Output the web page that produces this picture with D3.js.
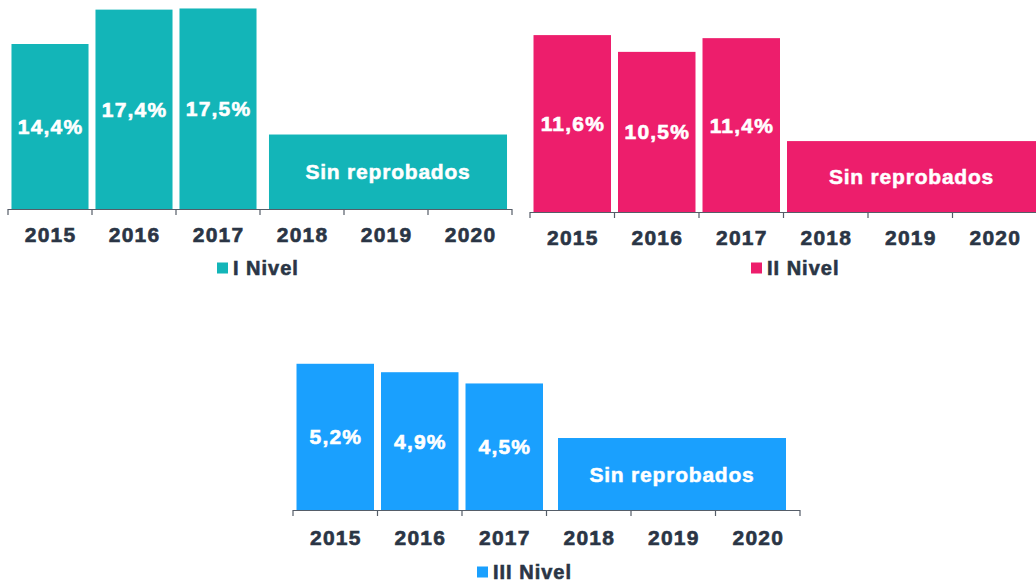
<!DOCTYPE html>
<html>
<head>
<meta charset="utf-8">
<script src="https://cdn.jsdelivr.net/npm/d3@7"></script>
<style>
  body { margin: 0; background: #fff; }
  text { font-family: "Liberation Sans", Arial, sans-serif; font-weight: bold; }
</style>
</head>
<body>
<div id="chart"></div>
<script>
// Data
var years = ["2015", "2016", "2017", "2018", "2019", "2020"];
var barYears = ["2015", "2016", "2017"];
var wideYears = ["2018", "2020"];
var wideLabel = "Sin reprobados";

var nivelNames = ["I Nivel", "II Nivel", "III Nivel"];
var nivelColors = ["#13b5b8", "#ed1e6c", "#1aa0fe"];
var nivel1 = [14.4, 17.4, 17.5];
var nivel2 = [11.6, 10.5, 11.4];
var nivel3 = [5.2, 4.9, 4.5];
// height of the "Sin reprobados" block
var wideHeights = [6.5, 4.65, 2.56];

// Layout for each small chart
var panels = [
  { left: 8, right: 512, base: 209, top: 0, yMax: 18.24, wideInset: [5.5, 1.5], labelDy: 25, legendX: 217, legendDy: 59 },
  { left: 530, right: 1037, base: 212, top: 20, yMax: 12.59, wideInset: [0, -4], labelDy: 25, legendX: 751, legendDy: 56 },
  { left: 293, right: 800, base: 510, top: 350, yMax: 5.69, wideInset: [8, 10.5], labelDy: 27, legendX: 477, legendDy: 62 }
];
var values = [nivel1, nivel2, nivel3];

var svgWidth = 1036;
var svgHeight = 584;
var textColor = "#2a3545";
var axisColor = "#555d68";

var svg = d3.select("#chart")
  .append("svg")
  .attr("width", svgWidth)
  .attr("height", svgHeight);

var fmt = function(v) { return v.toFixed(1).replace(".", ",") + "%"; };

panels.forEach(function(p, i) {
  var color = nivelColors[i];
  var g = svg.append("g");

  var xScale = d3.scaleBand()
    .domain(years)
    .range([p.left, p.right])
    .paddingInner(0.083)
    .paddingOuter(0.0415);

  var yScale = d3.scaleLinear()
    .domain([0, p.yMax])
    .range([p.base, p.top]);

  var bw = xScale.bandwidth();
  var half = xScale.step() * xScale.paddingInner() / 2;

  // axis line + ticks at category boundaries
  var bounds = years.map(function(y) { return xScale(y) - half; }).concat([p.right]);
  g.append("line")
    .attr("x1", p.left).attr("x2", p.right)
    .attr("y1", p.base + 0.5).attr("y2", p.base + 0.5)
    .attr("stroke", axisColor).attr("stroke-width", 1.2);
  g.selectAll(".tick")
    .data(bounds)
    .enter()
    .append("line")
    .attr("x1", function(d) { return d; })
    .attr("x2", function(d) { return d; })
    .attr("y1", p.base)
    .attr("y2", p.base + 6)
    .attr("stroke", axisColor).attr("stroke-width", 1.2);

  // bars
  var data = barYears.map(function(y, j) { return { year: y, value: values[i][j] }; });
  g.selectAll(".bar")
    .data(data)
    .enter()
    .append("rect")
    .attr("x", function(d) { return xScale(d.year); })
    .attr("y", function(d) { return yScale(d.value); })
    .attr("width", bw)
    .attr("height", function(d) { return yScale(0) - yScale(d.value); })
    .attr("fill", color);

  g.selectAll(".val")
    .data(data)
    .enter()
    .append("text")
    .attr("x", function(d) { return xScale(d.year) + bw / 2 + 0.6; })
    .attr("y", function(d) { return (yScale(d.value) + yScale(0)) / 2; })
    .attr("dominant-baseline", "central")
    .attr("text-anchor", "middle")
    .attr("fill", "#fff")
    .attr("stroke", "#fff")
    .attr("stroke-width", 0.6)
    .style("font-size", "21px")
    .style("letter-spacing", "1.2px")
    .text(function(d) { return fmt(d.value); });

  // wide "Sin reprobados" block
  var wx0 = xScale(wideYears[0]) + p.wideInset[0];
  var wx1 = xScale(wideYears[1]) + bw - p.wideInset[1];
  var wy = yScale(wideHeights[i]);
  g.append("rect")
    .attr("x", wx0)
    .attr("y", wy)
    .attr("width", wx1 - wx0)
    .attr("height", yScale(0) - wy)
    .attr("fill", color);
  g.append("text")
    .attr("x", (wx0 + Math.min(wx1, svgWidth)) / 2)
    .attr("y", (wy + yScale(0)) / 2)
    .attr("dominant-baseline", "central")
    .attr("text-anchor", "middle")
    .attr("fill", "#fff")
    .attr("stroke", "#fff")
    .attr("stroke-width", 0.5)
    .style("font-size", "21px")
    .style("letter-spacing", "0.8px")
    .text(wideLabel);

  // year labels
  g.selectAll(".yr")
    .data(years)
    .enter()
    .append("text")
    .attr("x", function(d) { return xScale(d) + bw / 2 + 0.6; })
    .attr("y", p.base + p.labelDy)
    .attr("dominant-baseline", "central")
    .attr("text-anchor", "middle")
    .attr("fill", textColor)
    .attr("stroke", textColor)
    .attr("stroke-width", 0.6)
    .style("font-size", "21px")
    .style("letter-spacing", "1.2px")
    .text(function(d) { return d; });

  // legend
  var ly = p.base + p.legendDy;
  g.append("rect")
    .attr("x", p.legendX)
    .attr("y", ly - 5.5)
    .attr("width", 11)
    .attr("height", 11)
    .attr("fill", color);
  g.append("text")
    .attr("x", p.legendX + 16)
    .attr("y", ly)
    .attr("dominant-baseline", "central")
    .attr("fill", textColor)
    .attr("stroke", textColor)
    .attr("stroke-width", 0.6)
    .style("font-size", "20px")
    .style("letter-spacing", "1px")
    .text(nivelNames[i]);
});
</script>
</body>
</html>
